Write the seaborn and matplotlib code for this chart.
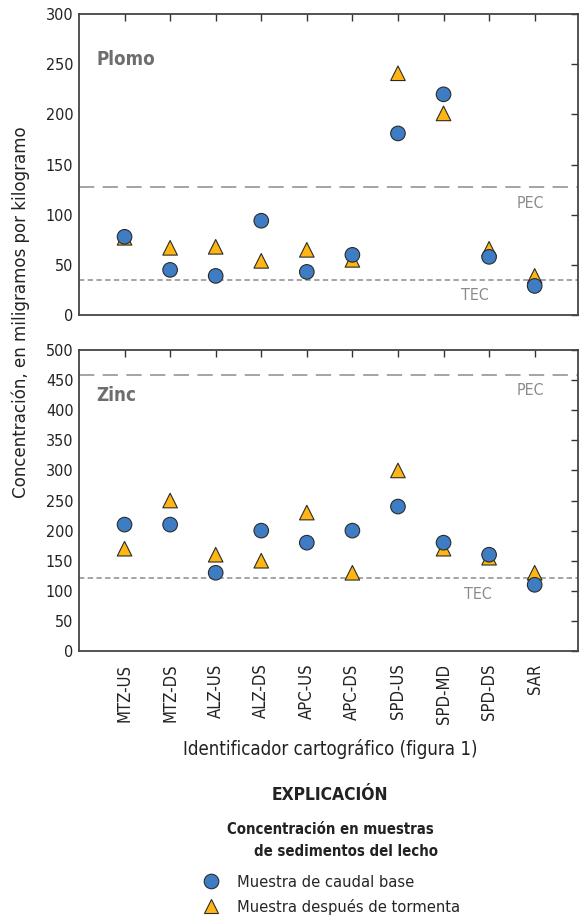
import pandas as pd
import seaborn as sns
import matplotlib.pyplot as plt
from matplotlib.lines import Line2D

# Data
sitios = ["MTZ-US", "MTZ-DS", "ALZ-US", "ALZ-DS", "APC-US",
          "APC-DS", "SPD-US", "SPD-MD", "SPD-DS", "SAR"]
plomo_base = [78, 45, 39, 94, 43, 60, 181, 220, 58, 29]
plomo_tormenta = [77, 67, 68, 54, 65, 55, 241, 201, 66, 39]
zinc_base = [210, 210, 130, 200, 180, 200, 240, 180, 160, 110]
zinc_tormenta = [170, 250, 160, 150, 230, 130, 300, 170, 155, 130]
plomo_pec, plomo_tec = 128, 35
zinc_pec, zinc_tec = 459, 121

lbl_base = "Muestra de caudal base"
lbl_torm = "Muestra después de tormenta"
colors = {lbl_base: "#3e7dc3", lbl_torm: "#ffb612"}
markers = {lbl_base: "o", lbl_torm: "^"}

def make_df(base, torm):
    # storm rows first so the circles are drawn on top
    d1 = pd.DataFrame({"sitio": sitios, "valor": torm, "tipo": lbl_torm})
    d2 = pd.DataFrame({"sitio": sitios, "valor": base, "tipo": lbl_base})
    return pd.concat([d1, d2], ignore_index=True)

sns.set_style("white")
plt.rcParams["font.family"] = ["DejaVu Sans"]
plt.rcParams["font.stretch"] = "condensed"

fig = plt.figure(figsize=(5.79, 9.19), dpi=100)
ax1 = fig.add_axes([0.1364, 0.6572, 0.8618, 0.3275])
ax2 = fig.add_axes([0.1364, 0.2916, 0.8618, 0.3275])

gray = "#8c8c8c"
panels = [
    (ax1, make_df(plomo_base, plomo_tormenta), 300, plomo_pec, plomo_tec, "Plomo",
     (8.9, 111), (7.7, 19)),
    (ax2, make_df(zinc_base, zinc_tormenta), 500, zinc_pec, zinc_tec, "Zinc",
     (8.9, 433), (7.75, 94)),
]

for ax, df, ymax, pec, tec, name, pec_pos, tec_pos in panels:
    ax.axhline(pec, color=gray, lw=1.1, dashes=(10, 5.5), zorder=1)
    ax.axhline(tec, color=gray, lw=1.1, dashes=(3.5, 2.2), zorder=1)
    sns.scatterplot(data=df, x="sitio", y="valor", hue="tipo", style="tipo",
                    palette=colors, markers=markers, s=110, edgecolor="#2b2b2b",
                    linewidth=0.8, legend=False, ax=ax, zorder=3)
    ax.set_xlim(-1, 9.95)
    ax.set_ylim(0, ymax)
    ax.set_yticks(range(0, ymax + 1, 50))
    ax.set_xlabel("")
    ax.set_ylabel("")
    ax.text(0.035, 0.85, name, transform=ax.transAxes, fontsize=13.5,
            fontweight="bold", color="#6e6e6e", va="center")
    ax.text(pec_pos[0], pec_pos[1], "PEC", color=gray, fontsize=11.5,
            ha="center", va="center")
    ax.text(tec_pos[0], tec_pos[1], "TEC", color=gray, fontsize=11.5,
            ha="center", va="center")
    ax.tick_params(direction="in", length=5, width=1, color="#333333",
                   top=True, right=True, labelcolor="#222222", pad=4)
    ax.tick_params(axis="y", labelsize=11.5)
    ax.tick_params(axis="x", labelsize=12)
    for sp in ax.spines.values():
        sp.set_color("#444444")
        sp.set_linewidth(1.3)

ax1.tick_params(axis="x", labelbottom=False)
ax2.tick_params(axis="x", labelrotation=90, pad=9)

fig.text(0.036, 1 - 312 / 919, "Concentración, en miligramos por kilogramo",
         rotation=90, ha="center", va="center", fontsize=13.3, color="#222222")
fig.text(330 / 579, 1 - 749 / 919, "Identificador cartográfico (figura 1)",
         ha="center", va="center", fontsize=13.4, color="#222222")
fig.text(330 / 579, 1 - 795 / 919, "EXPLICACIÓN", ha="center", va="center",
         fontsize=12.5, fontweight="bold", color="#222222")
fig.text(227 / 579, 1 - 830 / 919, "Concentración en muestras", ha="left",
         va="center", fontsize=10.7, fontweight="bold", color="#222222")
fig.text(254 / 579, 1 - 851 / 919, "de sedimentos del lecho", ha="left",
         va="center", fontsize=10.7, fontweight="bold", color="#222222")

handles = [Line2D([], [], ls="", marker=markers[k], ms=10.5, mfc=colors[k],
                  mec="#2b2b2b", mew=0.8) for k in [lbl_base, lbl_torm]]
fig.legend(handles, [lbl_base, lbl_torm], loc="center left",
           bbox_to_anchor=(201 / 579, 1 - 895 / 919), frameon=False,
           fontsize=11.8, handletextpad=1.0, labelspacing=0.55,
           handlelength=1.2, borderpad=0, borderaxespad=0)

plt.savefig("out.png", dpi=100)
